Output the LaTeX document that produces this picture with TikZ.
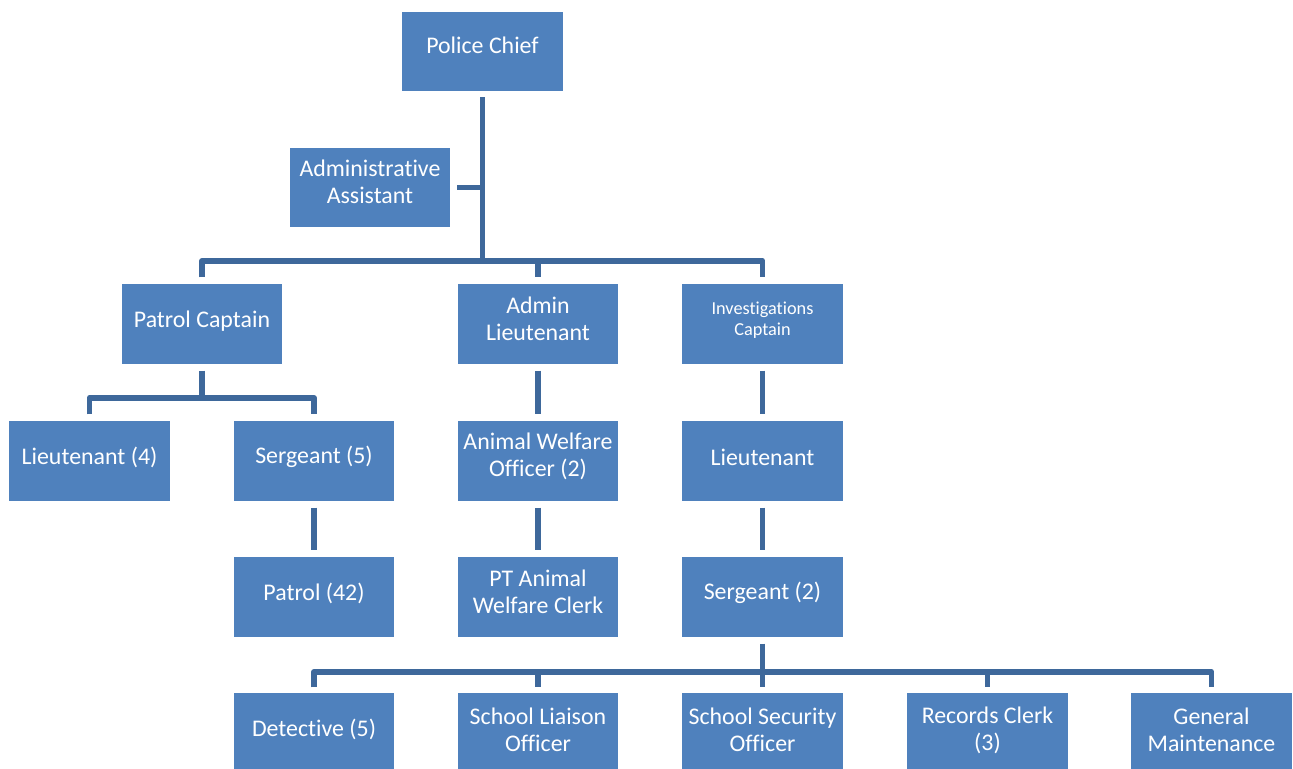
\documentclass[tikz,border=0pt]{standalone}
\usepackage{fontspec}
\setmainfont{Carlito}[Ligatures=NoCommon]
\usetikzlibrary{calc}
\definecolor{boxblue}{RGB}{79,129,189}
\definecolor{linkblue}{RGB}{62,104,155}
\tikzset{
  unit/.style={x=0.75pt,y=-0.75pt},
  box/.style={rectangle,fill=boxblue,draw=white,line width=0.6pt,
    minimum width=121.1pt,minimum height=60.4pt,inner sep=0pt},
  lbl/.style={text=white,align=center,inner sep=0pt,
    font=\fontsize{17.9}{20.25}\selectfont},
  small/.style={font=\fontsize{13.7}{15.75}\selectfont},
  single/.style={yshift=-1.3pt},
  lower/.style={yshift=-1.4pt},
  conn/.style={draw=linkblue,line width=4.4pt,line join=round}
}
% one organisational box: name, x, y, text, extra label options
\newcommand{\orgbox}[5][]{%
  \node[box] (#2) at (#3,#4) {};
  \node[lbl,#1] (#2-t) at ($(#2.center)+(0,-5.5)$) {#5};
}
\begin{document}
\begin{tikzpicture}[unit]
\useasboundingbox (0,0) rectangle (1293,768);

% boxes
\orgbox[yshift=0.4pt]{chief}{482.5}{51.5}{Police Chief}
\orgbox{assist}{370}{187.5}{Administrative\\Assistant}
\orgbox[single,yshift=-0.5pt]{patcap}{202}{324}{Patrol Captain}
\orgbox{adminlt}{538}{324}{Admin\\Lieutenant}
\orgbox[small,yshift=-1.5pt]{invcap}{762.5}{324}{Investigations\\Captain}
\orgbox[single]{lieut4}{89.5}{461}{Lieutenant (4)}
\orgbox[single]{serg5}{314}{461}{Sergeant (5)}
\orgbox[single]{patrol}{314}{597}{Patrol (42)}
\orgbox[yshift=-0.7pt]{awo}{538}{461}{Animal Welfare\\Officer (2)}
\orgbox{awclerk}{538}{597}{PT Animal\\Welfare Clerk}
\orgbox[single]{invlt}{762.5}{461}{Lieutenant}
\orgbox[single]{serg2}{762.5}{597}{Sergeant (2)}
\orgbox[single]{detect}{314}{733}{Detective (5)}
\orgbox[lower]{liaison}{538}{733}{School Liaison\\Officer}
\orgbox[lower]{security}{762.5}{733}{School Security\\Officer}
\orgbox[yshift=-2.2pt]{records}{987.5}{733}{Records Clerk\\(3)}
\orgbox[lower]{maint}{1211.5}{733}{General\\Maintenance}

% bus lines
\coordinate (busA) at (0,261);
\coordinate (busB) at (0,398);
\coordinate (busC) at (0,672);

% chief to captains
\draw[conn] ($(chief.south)+(0,5)$) -- (chief.south |- busA);
\draw[conn] ($(assist.east)+(6,0)$) -- (assist.east -| chief.south);
\draw[conn] ($(patcap.north)+(0,-6)$) |- (busA -| invcap.north) -- ($(invcap.north)+(0,-6)$);
\draw[conn] (busA -| adminlt.north) -- ($(adminlt.north)+(0,-6)$);

% patrol captain branch
\draw[conn] ($(patcap.south)+(0,6)$) -- (patcap.south |- busB);
\draw[conn] ($(lieut4.north)+(0,-6)$) |- (busB -| serg5.north) -- ($(serg5.north)+(0,-6)$);
\draw[conn] ($(serg5.south)+(0,6)$) -- ($(patrol.north)+(0,-6)$);

% admin lieutenant branch
\draw[conn] ($(adminlt.south)+(0,6)$) -- ($(awo.north)+(0,-6)$);
\draw[conn] ($(awo.south)+(0,6)$) -- ($(awclerk.north)+(0,-6)$);

% investigations branch
\draw[conn] ($(invcap.south)+(0,6)$) -- ($(invlt.north)+(0,-6)$);
\draw[conn] ($(invlt.south)+(0,6)$) -- ($(serg2.north)+(0,-6)$);
\draw[conn] ($(serg2.south)+(0,6)$) -- (serg2.south |- busC);
\draw[conn] ($(detect.north)+(0,-5)$) |- (busC -| maint.north) -- ($(maint.north)+(0,-5)$);
\draw[conn] (busC -| liaison.north) -- ($(liaison.north)+(0,-5)$);
\draw[conn] (busC -| security.north) -- ($(security.north)+(0,-5)$);
\draw[conn] (busC -| records.north) -- ($(records.north)+(0,-5)$);
\end{tikzpicture}
\end{document}
